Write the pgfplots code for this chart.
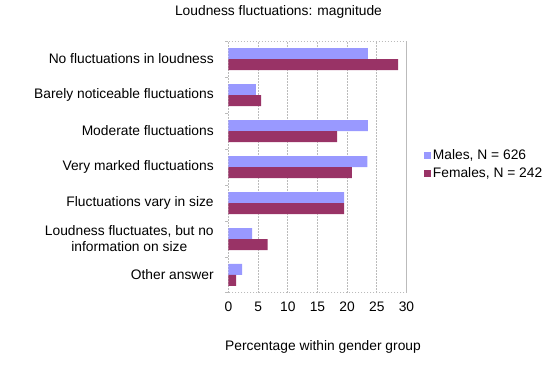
\documentclass[border=0pt]{standalone}
\usepackage{fontspec}
\setmainfont{Liberation Sans}
\usepackage{pgfplots}
\pgfplotsset{compat=1.18}
\definecolor{males}{HTML}{9999FF}
\definecolor{females}{HTML}{993366}
\definecolor{gridc}{HTML}{BBBBBB}
\begin{document}
\begin{tikzpicture}[x=1pt,y=1pt,font=\fontsize{13.8}{16}\selectfont]
\path[use as bounding box] (0,0) rectangle (557,367);
\begin{axis}[
  at={(228.5pt,74pt)}, anchor=south west, scale only axis,
  width=178pt, height=252pt,
  xbar, bar width=11pt,
  xmin=0, xmax=30, ymin=-0.5, ymax=6.5,
  xtick={0,5,...,30},
  ytick={0,...,6},
  ytick pos=left,
  xtick pos=bottom,
  yticklabels={Other answer,{Loudness fluctuates, but no\\information on size},Fluctuations vary in size,Very marked fluctuations,Moderate fluctuations,Barely noticeable fluctuations,No fluctuations in loudness},
  yticklabel style={align=center, xshift=-7pt},
  minor ytick={-0.5,0.5,...,6.5},
  major y tick style={draw=none},
  minor y tick style={gridc, line width=1pt},
  minor tick length=3pt,
  major x tick style={draw=none},
  tick align=outside,
  xticklabel style={yshift=-1pt},
  /pgf/number format/assume math mode=true,
  xmajorgrids,
  grid style={gridc, line width=1pt, dash pattern=on 1.5pt off 1.5pt},
  axis line style={gridc, line width=1pt, dash pattern=on 1.5pt off 1.5pt},
  legend style={at={(1.08,0.51)}, anchor=west, draw=none, fill=none, row sep=3pt, font=\fontsize{13.8}{16}\selectfont},
  legend cell align=left,
  legend image code/.code={\fill[#1] (0pt,-3.5pt) rectangle (7pt,3.5pt);},
]
\addplot[fill=males, draw=none, bar shift=5.5pt] coordinates {
  (2.3,0) (4.0,1) (19.5,2) (23.4,3) (23.5,4) (4.6,5) (23.5,6)};
\addplot[fill=females, draw=none, bar shift=-5.5pt] coordinates {
  (1.3,0) (6.6,1) (19.5,2) (20.8,3) (18.3,4) (5.5,5) (28.6,6)};
\legend{{Males, N = 626},{Females, N = 242}}
\end{axis}
\node at (278.5,355) {Loudness fluctuations: magnitude};
\node at (323,20) {Percentage within gender group};
\end{tikzpicture}
\end{document}
